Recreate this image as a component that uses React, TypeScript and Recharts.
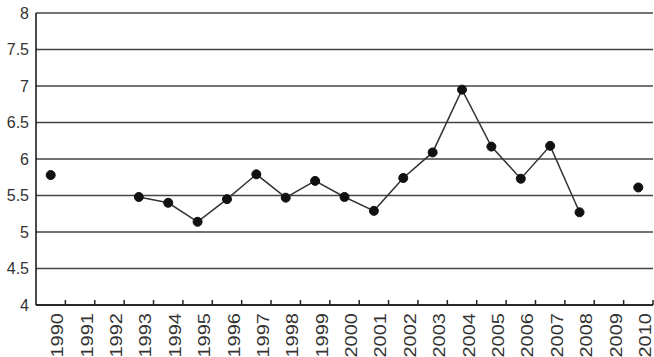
import { LineChart, Line, XAxis, YAxis, CartesianGrid } from 'recharts';

const years = [
  '1990', '1991', '1992', '1993', '1994', '1995', '1996', '1997', '1998', '1999', '2000',
  '2001', '2002', '2003', '2004', '2005', '2006', '2007', '2008', '2009', '2010',
];
const values: (number | null)[] = [
  5.78, null, null, 5.48, 5.4, 5.14, 5.45, 5.79, 5.47, 5.7, 5.48,
  5.29, 5.74, 6.09, 6.95, 6.17, 5.73, 6.18, 5.27, null, 5.61,
];
const yTicks = [4, 4.5, 5, 5.5, 6, 6.5, 7, 7.5, 8];

const data = years.map((year, i) => ({ year, value: values[i] }));

const W = 654;
const H = 357;
const LEFT = 36;
const RIGHT = 1;
const band = (W - LEFT - RIGHT) / years.length;

const YearTick = (props: any) => {
  const { x, y, payload } = props;
  return (
    <g>
      <line x1={x + band / 2} y1={y - 5} x2={x + band / 2} y2={y} stroke="#222" strokeWidth={1.5} />
      <text
        transform={`translate(${x + 7}, ${y + 8}) rotate(-90) scale(1.25, 1)`}
        textAnchor="end"
        dy="0.35em"
        fontSize={16}
        fill="#333"
        fontFamily="'Liberation Sans', Arial, sans-serif"
      >
        {payload.value}
      </text>
    </g>
  );
};

export default function App() {
  return (
    <div style={{ position: 'absolute', left: 0, top: 0, background: '#fff' }}>
      <LineChart width={W} height={H} data={data} margin={{ top: 13, right: RIGHT, left: 0, bottom: 0 }}>
        <CartesianGrid vertical={false} stroke="#444" strokeWidth={1.5} />
        <XAxis
          dataKey="year"
          height={H - 13 - 292}
          interval={0}
          padding={{ left: band / 2, right: band / 2 }}
          tickLine={false}
          tickSize={0}
          tickMargin={0}
          axisLine={{ stroke: '#111', strokeWidth: 1.5 }}
          tick={<YearTick />}
        />
        <YAxis
          width={LEFT}
          domain={[4, 8]}
          ticks={yTicks}
          interval={0}
          tickLine={false}
          tickSize={0}
          tickMargin={7}
          axisLine={{ stroke: '#111', strokeWidth: 1.5 }}
          tick={{ fontSize: 16, fill: '#333', fontFamily: "'Liberation Sans', Arial, sans-serif" }}
        />
        <Line
          dataKey="value"
          stroke="#333"
          strokeWidth={1.5}
          dot={{ r: 4.5, fill: '#111', stroke: '#111', strokeWidth: 1 }}
          isAnimationActive={false}
        />
      </LineChart>
    </div>
  );
}
